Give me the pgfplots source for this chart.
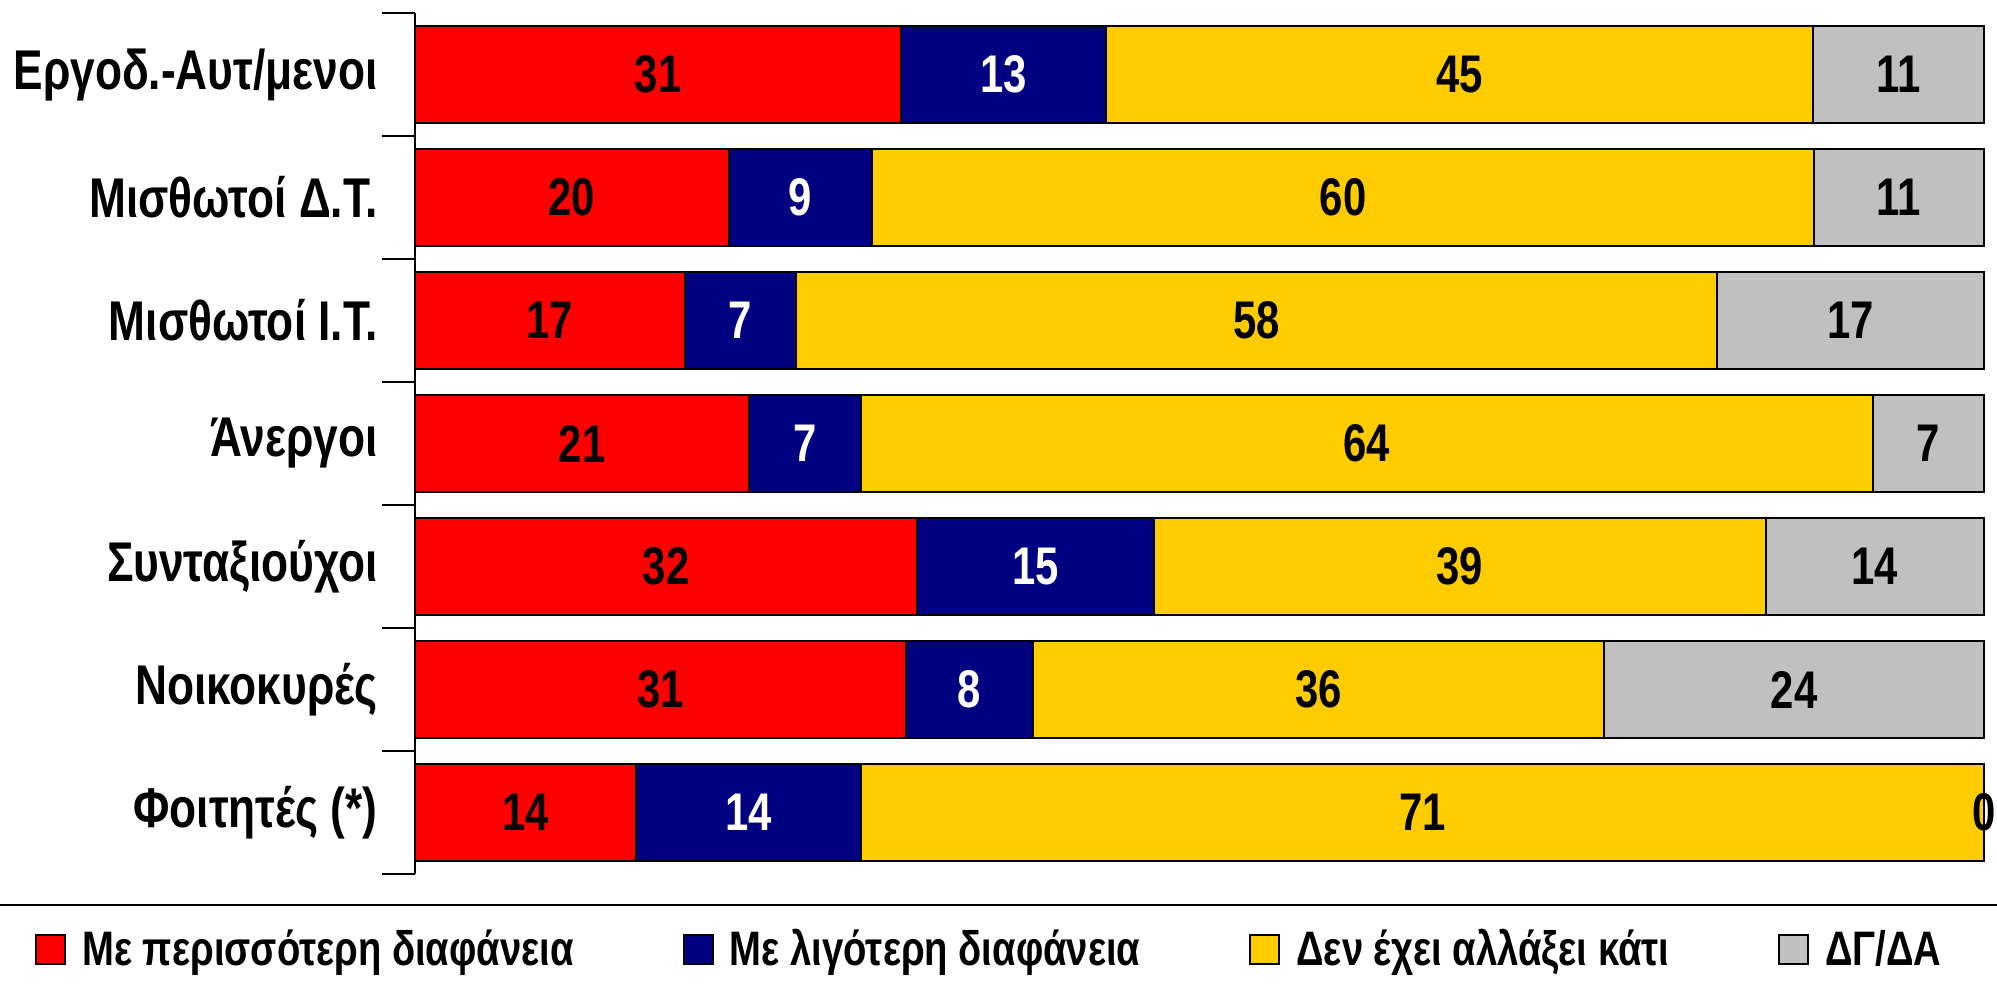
\documentclass[border=0pt]{standalone}
\usepackage{pgfplots}
\pgfplotsset{compat=1.18}
\usepackage{pgfplotstable}
\usepackage{fontspec}
\setmainfont{Liberation Sans}[FakeStretch=0.79]
\definecolor{cRed}{HTML}{FF0000}
\definecolor{cBlue}{HTML}{000080}
\definecolor{cYel}{HTML}{FFCC00}
\definecolor{cGrey}{HTML}{C0C0C0}

\pgfplotstableread{
y a b c d la lb lc ld
1 31.0 13.05 45.05 10.9 31 13 45 11
2 20.0 9.15 60.0 10.85 20 9 60 11
3 17.2 7.1 58.7 17.0 17 7 58 17
4 21.3 7.1 64.5 7.1 21 7 64 7
5 32.0 15.1 39.0 13.9 32 15 39 14
6 31.3 8.1 36.4 24.2 31 8 36 24
7 14.1 14.3 71.6 0 14 14 71 0
}\data

\newcommand{\catfont}{\fontsize{28}{28}\selectfont\bfseries}
\newcommand{\lblfont}{\fontsize{26.5}{26.5}\selectfont\bfseries}
\newcommand{\legfont}{\fontsize{24.2}{24.2}\selectfont\bfseries}

\begin{document}
\begin{tikzpicture}
\begin{axis}[
  scale only axis, width=784.5pt, height=430.5pt,
  xmin=0, xmax=100, ymin=0.5, ymax=7.5, y dir=reverse,
  axis x line=none, axis y line=left,
  axis line style={-, line width=1pt, black},
  xtick=\empty,
  ytick={1,...,7},
  yticklabels={Εργοδ.-Αυτ/μενοι, Μισθωτοί Δ.Τ., Μισθωτοί Ι.Τ., Άνεργοι, Συνταξιούχοι, Νοικοκυρές, Φοιτητές (*)},
  major tick length=0pt,
  yticklabel style={font=\catfont, anchor=east, inner sep=0pt, xshift=-18.5pt},
  extra y ticks={0.5,1.5,...,7.5}, extra y tick labels={},
  extra y tick style={major tick length=16.5pt, tick align=outside, tick style={line width=1pt, black}},
  clip=false,
  legend columns=4,
  legend style={at={(-0.2422,-0.0871)}, anchor=west, draw=none, fill=none, inner sep=0pt,
    font=\legfont, nodes={inner sep=0pt},
    /tikz/every odd column/.append style={column sep=8pt},
    /tikz/every even column/.append style={column sep=54.5pt}},
  legend cell align=left,
]
\addlegendimage{legend image code/.code={\draw[fill=cRed,draw=black,line width=1pt] (0pt,-7.25pt) rectangle (14.5pt,7.25pt);}}
\addlegendimage{legend image code/.code={\draw[fill=cBlue,draw=black,line width=1pt] (0pt,-7.25pt) rectangle (14.5pt,7.25pt);}}
\addlegendimage{legend image code/.code={\draw[fill=cYel,draw=black,line width=1pt] (0pt,-7.25pt) rectangle (14.5pt,7.25pt);}}
\addlegendimage{legend image code/.code={\draw[fill=cGrey,draw=black,line width=1pt] (0pt,-7.25pt) rectangle (14.5pt,7.25pt);}}
\legend{{\legfont Με περισσότερη διαφάνεια}, {\legfont Με λιγότερη διαφάνεια}, {\legfont Δεν έχει αλλάξει κάτι}, {\legfont ΔΓ/ΔΑ}}

\addplot[xbar, bar shift=0pt, bar width=48.4pt, fill=cGrey, draw=black, line width=1pt, forget plot]
  table[x expr=\thisrow{a}+\thisrow{b}+\thisrow{c}+\thisrow{d}, y=y]{\data};
\addplot[xbar, bar shift=0pt, bar width=48.4pt, fill=cYel, draw=black, line width=1pt, forget plot]
  table[x expr=\thisrow{a}+\thisrow{b}+\thisrow{c}, y=y]{\data};
\addplot[xbar, bar shift=0pt, bar width=48.4pt, fill=cBlue, draw=black, line width=1pt, forget plot]
  table[x expr=\thisrow{a}+\thisrow{b}, y=y]{\data};
\addplot[xbar, bar shift=0pt, bar width=48.4pt, fill=cRed, draw=black, line width=1pt, forget plot]
  table[x expr=\thisrow{a}, y=y]{\data};

\addplot[draw=none, mark=none, nodes near coords, point meta=explicit symbolic,
  nodes near coords style={anchor=center, font=\lblfont, text=black}, forget plot]
  table[x expr=\thisrow{a}/2, y=y, meta=la]{\data};
\addplot[draw=none, mark=none, nodes near coords, point meta=explicit symbolic,
  nodes near coords style={anchor=center, font=\lblfont, text=white}, forget plot]
  table[x expr=\thisrow{a}+\thisrow{b}/2, y=y, meta=lb]{\data};
\addplot[draw=none, mark=none, nodes near coords, point meta=explicit symbolic,
  nodes near coords style={anchor=center, font=\lblfont, text=black}, forget plot]
  table[x expr=\thisrow{a}+\thisrow{b}+\thisrow{c}/2, y=y, meta=lc]{\data};
\addplot[draw=none, mark=none, nodes near coords, point meta=explicit symbolic,
  nodes near coords style={anchor=center, font=\lblfont, text=black}, forget plot]
  table[x expr=\thisrow{a}+\thisrow{b}+\thisrow{c}+\thisrow{d}/2, y=y, meta=ld]{\data};
\end{axis}
\draw[line width=1.2pt, black] (-207.5pt,-15.5pt) -- (791pt,-15.5pt);
\pgfresetboundingbox
\path (-207.5pt,-56.5pt) rectangle (791pt,437pt);
\end{tikzpicture}
\end{document}
